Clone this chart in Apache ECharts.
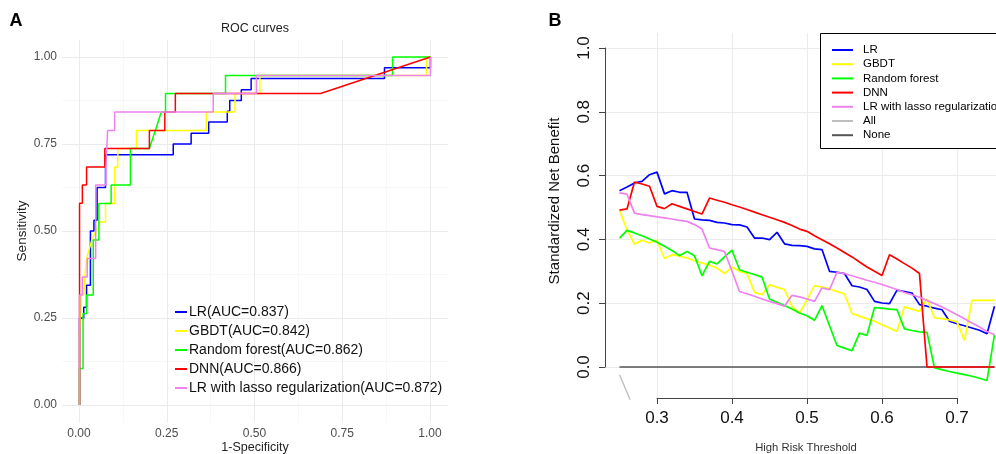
<!DOCTYPE html>
<html><head><meta charset="utf-8">
<script src="https://cdn.jsdelivr.net/npm/echarts@6/dist/echarts.min.js"></script>
<style>html,body{margin:0;padding:0;background:#fff}#c{width:996px;height:454px}</style>
</head><body><div id="c"></div><script>
// ---------- Panel A: ROC curves (x = 1-specificity, y = sensitivity) ----------
const rocNames = ['LR(AUC=0.837)','GBDT(AUC=0.842)','Random forest(AUC=0.862)','DNN(AUC=0.866)','LR with lasso regularization(AUC=0.872)'];
const rocLR = [[0,0],[0,0.25],[0.012,0.25],[0.012,0.281],[0.02,0.281],[0.02,0.344],[0.031,0.344],[0.031,0.5],[0.041,0.5],[0.041,0.531],[0.05,0.531],[0.05,0.625],[0.074,0.625],[0.074,0.719],[0.267,0.719],[0.267,0.75],[0.318,0.75],[0.318,0.781],[0.368,0.781],[0.368,0.813],[0.421,0.813],[0.421,0.844],[0.428,0.844],[0.428,0.875],[0.461,0.875],[0.461,0.906],[0.489,0.906],[0.489,0.938],[0.869,0.938],[0.869,0.969],[1,0.969],[1,1]];
const rocGBDT = [[0,0],[0,0.21],[0.005,0.21],[0.005,0.316],[0.012,0.316],[0.015,0.368],[0.02,0.421],[0.035,0.474],[0.058,0.526],[0.074,0.526],[0.074,0.579],[0.1,0.579],[0.1,0.684],[0.109,0.684],[0.109,0.737],[0.162,0.737],[0.162,0.789],[0.361,0.789],[0.361,0.842],[0.443,0.842],[0.443,0.895],[0.514,0.895],[0.514,0.947],[0.989,0.947],[0.989,1],[1,1]];
const rocRF = [[0,0],[0,0.105],[0.01,0.105],[0.01,0.263],[0.02,0.263],[0.02,0.316],[0.039,0.316],[0.039,0.474],[0.055,0.474],[0.055,0.579],[0.09,0.579],[0.09,0.632],[0.145,0.632],[0.145,0.737],[0.199,0.737],[0.216,0.789],[0.233,0.842],[0.245,0.842],[0.245,0.895],[0.416,0.895],[0.416,0.947],[0.892,0.947],[0.892,1],[1,1]];
const rocDNN = [[0,0],[0,0.58],[0.008,0.58],[0.008,0.632],[0.02,0.632],[0.02,0.684],[0.072,0.684],[0.072,0.737],[0.199,0.737],[0.199,0.789],[0.243,0.789],[0.243,0.842],[0.273,0.842],[0.273,0.895],[0.687,0.895],[1,1]];
const rocLasso = [[0,0],[0,0.316],[0.008,0.316],[0.008,0.368],[0.022,0.368],[0.022,0.421],[0.046,0.421],[0.046,0.632],[0.075,0.632],[0.075,0.684],[0.08,0.684],[0.08,0.789],[0.1,0.789],[0.1,0.842],[0.381,0.842],[0.381,0.895],[0.504,0.895],[0.504,0.947],[1,0.947],[1,1]];
const rocTickLabels = ['0.00','0.25','0.50','0.75','1.00'];

// ---------- Panel B: decision curves ----------
const dcaNames = ['LR','GBDT','Random forest','DNN','LR with lasso regularization','All','None'];
const thresholds = [0.25,0.26,0.27,0.28,0.29,0.30,0.31,0.32,0.33,0.34,0.35,0.36,0.37,0.38,0.39,0.40,0.41,0.42,0.43,0.44,0.45,0.46,0.47,0.48,0.49,0.50,0.51,0.52,0.53,0.54,0.55,0.56,0.57,0.58,0.59,0.60,0.61,0.62,0.63,0.64,0.65,0.66,0.67,0.68,0.69,0.70,0.71,0.72,0.73,0.74,0.75];
const dcaLR = [0.551,0.5625,0.575,0.58,0.601,0.609,0.541,0.551,0.546,0.546,0.4625,0.46,0.458,0.452,0.45,0.445,0.444,0.4375,0.403,0.403,0.398,0.421,0.385,0.38,0.379,0.377,0.369,0.367,0.299,0.296,0.292,0.254,0.25,0.242,0.205,0.2,0.198,0.24,0.236,0.231,0.195,0.19,0.184,0.179,0.143,0.135,0.129,0.122,0.115,0.104,0.19];
const dcaGBDT = [0.49,0.429,0.384,0.396,0.3875,0.396,0.339,0.351,0.346,0.341,0.332,0.325,0.318,0.309,0.292,0.3125,0.299,0.292,0.234,0.226,0.257,0.249,0.242,0.19,0.168,0.21,0.254,0.25,0.244,0.236,0.228,0.167,0.159,0.151,0.143,0.132,0.122,0.111,0.188,0.181,0.174,0.213,0.154,0.151,0.147,0.141,0.083,0.208,0.208,0.208,0.208];
const dcaRF = [0.403,0.427,0.419,0.41,0.4,0.39,0.377,0.364,0.348,0.361,0.348,0.285,0.33,0.322,0.344,0.365,0.304,0.296,0.289,0.281,0.2125,0.202,0.192,0.181,0.169,0.16,0.146,0.192,0.129,0.067,0.059,0.051,0.106,0.099,0.186,0.184,0.181,0.179,0.119,0.114,0.11,0.108,-0.003,-0.008,-0.014,-0.019,-0.024,-0.029,-0.035,-0.042,0.101];
const dcaDNN = [0.49,0.494,0.578,0.572,0.565,0.502,0.495,0.51,0.502,0.494,0.486,0.478,0.528,0.521,0.515,0.507,0.5,0.492,0.484,0.476,0.468,0.46,0.452,0.442,0.431,0.424,0.41,0.398,0.385,0.372,0.358,0.344,0.328,0.3125,0.299,0.286,0.351,0.3375,0.323,0.309,0.292,0,0,0,0,0,0,0,0,0,0];
const dcaLasso = [0.544,0.54,0.481,0.476,0.473,0.469,0.466,0.4625,0.458,0.455,0.445,0.431,0.372,0.367,0.361,0.299,0.236,0.229,0.221,0.2125,0.205,0.198,0.19,0.224,0.219,0.2125,0.205,0.247,0.242,0.296,0.292,0.285,0.278,0.271,0.265,0.258,0.25,0.242,0.233,0.226,0.218,0.208,0.198,0.1875,0.176,0.1635,0.151,0.1375,0.125,0.111,0.101];
const dcaAll = [-0.024,-0.079,-0.136,-0.19];
const dcaNone = [0,0,0,0,0,0,0,0,0,0,0,0,0,0,0,0,0,0,0,0,0,0,0,0,0,0,0,0,0,0,0,0,0,0,0,0,0,0,0,0,0,0,0,0,0,0,0,0,0,0,0];
const dcaYTickLabels = ['0.0','0.2','0.4','0.6','0.8','1.0'];
const dcaXTickLabels = ['0.3','0.4','0.5','0.6','0.7'];

const FONT = '"Liberation Sans", Arial, Helvetica, sans-serif';
const pair = (xs, ys) => ys.map((y, i) => [xs[i], y]);
function ln(name, data, color, width, idx) {
  return {type:'line', name, data, xAxisIndex:idx, yAxisIndex:idx, showSymbol:false, symbol:'none',
    lineStyle:{color, width}, itemStyle:{color}, silent:true, animation:false};
}
const hidden = (gi, min, max) => ({type:'value', gridIndex:gi, min, max, show:false});
const gridLine = {show:true, lineStyle:{color:'#ebebeb', width:1}};
const minorGrid = {show:true, lineStyle:{color:'#f3f3f3', width:0.7}};

const chart = echarts.init(document.getElementById('c'), null, {renderer:'canvas'});
chart.setOption({
  backgroundColor:'#fff',
  animation:false,
  textStyle:{fontFamily:FONT},
  grid:[
    {left:79, top:39.6, width:351, height:382.8, outerBoundsMode:'none'},
    {left:62, top:57, width:386, height:348, outerBoundsMode:'none'},
    {left:62, top:39.6, width:386, height:382.8, outerBoundsMode:'none'},
    {left:605, top:48, width:391, height:319, outerBoundsMode:'none'},
    {left:657, top:33, width:300, height:365, outerBoundsMode:'none'},
    {left:619.5, top:31, width:375, height:368, outerBoundsMode:'none'}
  ],
  xAxis:[
    {type:'value', gridIndex:0, min:0, max:1, interval:0.25,
     axisLine:{show:false}, axisTick:{show:false},
     axisLabel:{color:'#4d4d4d', fontSize:12, margin:5, fontFamily:FONT, formatter:v => rocTickLabels[Math.round(v/0.25)]},
     splitLine:gridLine, minorTick:{show:false, splitNumber:2}, minorSplitLine:minorGrid},
    hidden(1,0,1),
    hidden(2,-0.05,1.05),
    hidden(3,0,1),
    {type:'value', gridIndex:4, min:0.3, max:0.7, interval:0.1,
     axisLine:{show:true, lineStyle:{color:'#444', width:1}},
     axisTick:{show:true, inside:false, length:6, lineStyle:{color:'#444', width:1}},
     axisLabel:{color:'#111', fontSize:17, margin:12, fontFamily:FONT, formatter:v => dcaXTickLabels[Math.round((v-0.3)/0.1)]},
     splitLine:gridLine},
    hidden(5,0.25,0.75)
  ],
  yAxis:[
    hidden(0,-0.05,1.05),
    {type:'value', gridIndex:1, min:0, max:1, interval:0.25,
     axisLine:{show:false}, axisTick:{show:false},
     axisLabel:{color:'#4d4d4d', fontSize:12, margin:5, fontFamily:FONT, formatter:v => rocTickLabels[Math.round(v/0.25)]},
     splitLine:gridLine, minorTick:{show:false, splitNumber:2}, minorSplitLine:minorGrid},
    hidden(2,-0.05,1.05),
    {type:'value', gridIndex:3, min:0, max:1, interval:0.2,
     axisLine:{show:true, lineStyle:{color:'#444', width:1}},
     axisTick:{show:true, inside:false, length:6, lineStyle:{color:'#444', width:1}},
     axisLabel:{color:'#111', fontSize:17, margin:12, rotate:90, fontFamily:FONT, formatter:v => dcaYTickLabels[Math.round(v/0.2)]},
     splitLine:gridLine},
    hidden(4,0,1),
    hidden(5,-0.1,1.05)
  ],
  legend:[
    {data:rocNames, orient:'vertical', left:175, top:304, itemWidth:12, itemHeight:2, itemGap:3, icon:'rect',
     padding:0, selectedMode:false, textStyle:{fontSize:14, lineHeight:16, color:'#111', fontFamily:FONT, padding:[0,0,0,-3]}},
    {data:dcaNames, orient:'vertical', left:832, top:44, itemWidth:21, itemHeight:2, itemGap:2.2, icon:'rect',
     padding:0, selectedMode:false, z:10,
     textStyle:{fontSize:11.5, lineHeight:12, color:'#000', fontFamily:FONT, padding:[0,0,0,5]}}
  ],
  graphic:[
    {type:'rect', z:5, shape:{x:820.5, y:33.5, width:200, height:115}, style:{fill:'#fff', stroke:'#000', lineWidth:1}},
    {type:'text', x:16, y:21, style:{text:'A', fontSize:18, fontWeight:'bold', fontFamily:FONT, fill:'#000', align:'center', verticalAlign:'middle'}},
    {type:'text', x:555, y:21, style:{text:'B', fontSize:18, fontWeight:'bold', fontFamily:FONT, fill:'#000', align:'center', verticalAlign:'middle'}},
    {type:'text', x:255, y:29, style:{text:'ROC curves', fontSize:12.5, fontFamily:FONT, fill:'#222', align:'center', verticalAlign:'middle'}},
    {type:'text', x:255, y:448, style:{text:'1-Specificity', fontSize:12.5, fontFamily:FONT, fill:'#222', align:'center', verticalAlign:'middle'}},
    {type:'text', x:22, y:231, rotation:Math.PI/2, style:{text:'Sensitivity', fontSize:13.5, fontFamily:FONT, fill:'#222', align:'center', verticalAlign:'middle'}},
    {type:'text', x:555, y:201, rotation:Math.PI/2, style:{text:'Standardized Net Benefit', fontSize:15, fontFamily:FONT, fill:'#111', align:'center', verticalAlign:'middle'}},
    {type:'text', x:806, y:448, style:{text:'High Risk Threshold', fontSize:11.3, fontFamily:FONT, fill:'#333', align:'center', verticalAlign:'middle'}}
  ],
  series:[
    ln(rocNames[0], rocLR, '#0000ff', 1.5, 2),
    ln(rocNames[1], rocGBDT, '#ffff00', 1.5, 2),
    ln(rocNames[2], rocRF, '#00ff00', 1.5, 2),
    ln(rocNames[3], rocDNN, '#ff0000', 1.5, 2),
    ln(rocNames[4], rocLasso, '#ee82ee', 1.5, 2),
    ln(dcaNames[5], pair(thresholds, dcaAll), '#bebebe', 1.4, 5),
    ln(dcaNames[6], pair(thresholds, dcaNone), '#555555', 1.6, 5),
    ln(dcaNames[0], pair(thresholds, dcaLR), '#0000ff', 1.7, 5),
    ln(dcaNames[1], pair(thresholds, dcaGBDT), '#ffff00', 1.7, 5),
    ln(dcaNames[2], pair(thresholds, dcaRF), '#00ff00', 1.7, 5),
    ln(dcaNames[3], pair(thresholds, dcaDNN), '#ff0000', 1.7, 5),
    ln(dcaNames[4], pair(thresholds, dcaLasso), '#ee82ee', 1.7, 5)
  ]
});
</script></body></html>
